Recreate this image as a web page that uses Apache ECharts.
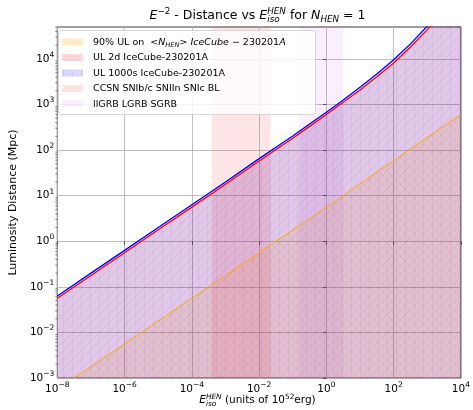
<!DOCTYPE html>
<html>
<head>
<meta charset="utf-8">
<script src="https://cdn.jsdelivr.net/npm/echarts@6/dist/echarts.min.js"></script>
<style>
  html, body { margin: 0; padding: 0; background: #fff; }
  #chart { width: 473px; height: 410px; }
</style>
</head>
<body>
<div id="chart"></div>
<script>
// Isotropic-equivalent energy (units of 1e52 erg)
const energy = [1e-8, 1e-7, 1e-6, 1e-5, 1e-4, 1e-3, 1e-2, 1e-1, 0.316, 1, 3.16, 10, 31.6, 100, 316, 1000, 3162, 10000];
// Luminosity distance (Mpc) reachable for each limit
const distBlue   = [0.063, 0.20, 0.63, 2.0, 6.3, 20, 65, 204, 372, 676, 1260, 2400, 4680, 9550, 21400, 52500, 138000, 390000];
const distRed    = [0.056, 0.178, 0.56, 1.78, 5.6, 17.8, 57.5, 182, 331, 603, 1120, 2090, 4070, 8130, 18200, 44000, 112000, 315000];
const distOrange = [5.6e-4, 1.78e-3, 5.6e-3, 0.0178, 0.056, 0.178, 0.56, 1.78, 3.16, 5.6, 10, 18.2, 33, 59, 105, 190, 339, 603];
// Energy ranges of source classes
const ccsnBand = [3.9e-4, 2.2e-2];
const grbBand = [0.155, 3.2];
// Axis ticks (exponents of ten)
const xTickExps = [-8, -6, -4, -2, 0, 2, 4];
const yTickExps = [-3, -2, -1, 0, 1, 2, 3, 4];
const xRange = [-8, 4];
const yRange = [-3, 4.7];

const FONT = 'DejaVu Sans';
const lg = v => Math.log10(v);
const pairs = (xs, ys) => xs.map((x, i) => [lg(x), lg(ys[i])]);

// Hatched fill tiles
function hatch(bg, ink, kind, s) {
  const c = document.createElement('canvas');
  c.width = s; c.height = s;
  const g = c.getContext('2d');
  if (bg) { g.fillStyle = bg; g.fillRect(0, 0, s, s); }
  g.strokeStyle = ink; g.lineWidth = 1;
  g.beginPath();
  if (kind === '/') {
    g.moveTo(-1, s + 1); g.lineTo(s + 1, -1);
    g.moveTo(-1, 1); g.lineTo(1, -1);
    g.moveTo(s - 1, s + 1); g.lineTo(s + 1, s - 1);
  } else if (kind === '\\') {
    g.moveTo(-1, -1); g.lineTo(s + 1, s + 1);
    g.moveTo(s - 1, -1); g.lineTo(s + 1, 1);
    g.moveTo(-1, s - 1); g.lineTo(1, s + 1);
  } else if (kind === '|') {
    g.moveTo(0.5, 0); g.lineTo(0.5, s);
  }
  g.stroke();
  return c;
}
const HS = 9;
const fillOrange = hatch('rgba(255,165,0,0.11)', 'rgba(255,150,0,0.13)', '\\', HS);
const fillRed    = hatch('rgba(255,0,0,0.10)', 'rgba(255,0,0,0.09)', '/', HS);
const fillBlue   = hatch('rgba(0,0,255,0.12)', 'rgba(40,0,220,0.06)', '|', HS);
const fillOrangeKey = hatch('rgba(255,165,0,0.2)', 'rgba(255,150,0,0.15)', '\\', HS);
const fillRedKey    = hatch('rgba(255,0,0,0.15)', 'rgba(255,0,0,0.1)', '/', HS);
const fillBlueKey   = hatch('rgba(0,0,255,0.15)', 'rgba(40,0,220,0.08)', '|', HS);
const ccsnColor = 'rgba(255,40,40,0.12)';
const grbColor  = 'rgba(200,90,235,0.09)';

// Text with super/subscripts laid out piece by piece
const mctx = document.createElement('canvas').getContext('2d');
const fontOf = p => (p.it ? 'italic ' : '') + p.size + 'px "' + FONT + '"';
function widthOf(p) { mctx.font = fontOf(p); return mctx.measureText(p.t).width; }
function mathLine(pieces, x0, baseline, align) {
  const items = [];
  let x = 0;
  pieces.forEach(p => {
    if (p.stack) {
      p.stack.forEach(q => items.push({ q, x }));
      x += Math.max(...p.stack.map(widthOf));
    } else {
      items.push({ q: p, x });
      x += widthOf(p);
    }
  });
  const start = align === 'center' ? x0 - x / 2 : x0;
  return items.map(({ q, x }) => ({
    type: 'text', silent: true, z: 100,
    x: start + x, y: baseline + (q.dy || 0) - 0.33 * q.size,
    style: { text: q.t, font: fontOf(q), fill: '#000', align: 'left', verticalAlign: 'middle' }
  }));
}

const T = 12.5, ts = T * 0.7;
const titleParts = [
  { t: 'E', it: 1, size: T }, { t: '\u22122', size: ts, dy: -T * 0.4 },
  { t: ' - Distance vs ', size: T },
  { t: 'E', it: 1, size: T },
  { stack: [{ t: 'HEN', it: 1, size: ts, dy: -T * 0.4 }, { t: 'iso', it: 1, size: ts, dy: T * 0.22 }] },
  { t: ' for ', size: T },
  { t: 'N', it: 1, size: T }, { t: 'HEN', it: 1, size: ts, dy: T * 0.22 },
  { t: ' = 1', size: T }
];
const A = 10.5, as = A * 0.7;
const xNameParts = [
  { t: 'E', it: 1, size: A },
  { stack: [{ t: 'HEN', it: 1, size: as, dy: -A * 0.4 }, { t: 'iso', it: 1, size: as, dy: A * 0.22 }] },
  { t: ' (units of 10', size: A }, { t: '52', size: as, dy: -A * 0.4 }, { t: 'erg)', size: A }
];

// Legend
const L = 9.5, ls = L * 0.7;
const legendRows = [
  { fill: fillOrangeKey, parts: [
    { t: '90% UL on  <', size: L }, { t: 'N', it: 1, size: L }, { t: 'HEN', it: 1, size: ls, dy: L * 0.22 },
    { t: '> ', size: L }, { t: 'IceCube', it: 1, size: L }, { t: ' \u2212 230201', size: L }, { t: 'A', it: 1, size: L }] },
  { fill: fillRedKey, parts: [{ t: 'UL 2d IceCube-230201A', size: L }] },
  { fill: fillBlueKey, parts: [{ t: 'UL 1000s IceCube-230201A', size: L }] },
  { fill: ccsnColor, parts: [{ t: 'CCSN SNIb/c SNIIn SNIc BL', size: L }] },
  { fill: grbColor, parts: [{ t: 'llGRB LGRB SGRB', size: L }] }
];
const legendBox = { x: 58, y: 30, w: 257, h: 84 };
const legendGraphics = [{
  type: 'rect', silent: true, z: 90,
  shape: { x: legendBox.x + 0.5, y: legendBox.y + 0.5, width: legendBox.w, height: legendBox.h, r: 2.5 },
  style: { fill: 'rgba(255,255,255,0.8)', stroke: '#d6d6d6', lineWidth: 1 }
}];
legendRows.forEach((row, i) => {
  const cy = legendBox.y + 12 + i * 15.5;
  legendGraphics.push({
    type: 'rect', silent: true, z: 95,
    shape: { x: 62, y: cy - 3.5, width: 21, height: 7 },
    style: { fill: typeof row.fill === 'string' ? row.fill : { image: row.fill, repeat: 'repeat' } }
  });
  legendGraphics.push(...mathLine(row.parts, 93, cy + 3.4, 'left'));
});

const richTick = {
  b: { fontFamily: FONT, fontSize: 10.5, color: '#000', lineHeight: 16 },
  s: { fontFamily: FONT, fontSize: 7.5, color: '#000', lineHeight: 9, verticalAlign: 'top' }
};
const powLabel = v => {
  const e = Math.round(v);
  if (Math.abs(v - e) > 1e-6) return '';
  return '{b|10}{s|' + String(e).replace('-', '\u2212') + '}';
};

const yMinor = [];
for (let e = yRange[0]; e < Math.ceil(yRange[1]); e++) {
  for (let k = 2; k <= 9; k++) { const v = e + lg(k); if (v < yRange[1]) yMinor.push(v); }
}

const chart = echarts.init(document.getElementById('chart'), null, { renderer: 'canvas' });
chart.setOption({
  animation: false,
  backgroundColor: '#fff',
  grid: { left: 53, right: 11, top: 27, bottom: 32, show: true, borderColor: '#3a3a3a', borderWidth: 1, backgroundColor: 'transparent' },
  xAxis: {
    type: 'value', min: xRange[0], max: xRange[1], interval: 2,
    axisLine: { show: false },
    axisTick: { show: true, inside: false, length: 3.5, lineStyle: { color: '#333', width: 0.8 }, customValues: xTickExps },
    axisLabel: { margin: 3, formatter: powLabel, rich: richTick, customValues: xTickExps },
    splitLine: { show: true, lineStyle: { color: '#b0b0b0', width: 0.8 } }
  },
  yAxis: {
    type: 'value', min: yRange[0], max: yRange[1], interval: 1,
    name: 'Luminosity Distance (Mpc)', nameLocation: 'middle', nameGap: 35, nameRotate: 90,
    nameTextStyle: { fontFamily: FONT, fontSize: 11, color: '#000' },
    axisLine: { show: false },
    axisTick: { show: true, inside: false, length: 3.5, lineStyle: { color: '#333', width: 0.8 }, customValues: yTickExps },
    axisLabel: { margin: 3, formatter: powLabel, rich: richTick, customValues: yTickExps },
    splitLine: { show: true, lineStyle: { color: '#b0b0b0', width: 0.8 } }
  },
  graphic: [
    ...mathLine(titleParts, 257.5, 20, 'center'),
    ...mathLine(xNameParts, 257.5, 404, 'center'),
    ...legendGraphics
  ],
  series: [
    { type: 'line', data: pairs(energy, distOrange), symbol: 'none', silent: true, z: 1,
      lineStyle: { opacity: 0 }, areaStyle: { origin: 'start', color: { image: fillOrange, repeat: 'repeat' }, opacity: 1 } },
    { type: 'line', data: pairs(energy, distRed), symbol: 'none', silent: true, z: 1,
      lineStyle: { opacity: 0 }, areaStyle: { origin: 'start', color: { image: fillRed, repeat: 'repeat' }, opacity: 1 } },
    { type: 'line', data: pairs(energy, distBlue), symbol: 'none', silent: true, z: 1,
      lineStyle: { opacity: 0 }, areaStyle: { origin: 'start', color: { image: fillBlue, repeat: 'repeat' }, opacity: 1 },
      markArea: { silent: true, data: [
        [{ xAxis: lg(ccsnBand[0]), itemStyle: { color: ccsnColor } }, { xAxis: lg(ccsnBand[1]) }],
        [{ xAxis: lg(grbBand[0]), itemStyle: { color: grbColor } }, { xAxis: lg(grbBand[1]) }]
      ] } },
    { type: 'line', data: pairs(energy, distOrange), symbol: 'none', silent: true, z: 3,
      lineStyle: { color: '#ffa500', width: 1 } },
    { type: 'line', data: pairs(energy, distRed), symbol: 'none', silent: true, z: 3,
      lineStyle: { color: '#ff0000', width: 1.3 } },
    { type: 'line', data: pairs(energy, distBlue), symbol: 'none', silent: true, z: 3,
      lineStyle: { color: '#0000ff', width: 1.3 } },
    { type: 'custom', coordinateSystem: 'cartesian2d', silent: true, clip: false, z: 5,
      data: yMinor.map(v => [xRange[0], v]),
      renderItem: (params, api) => {
        const p = api.coord([api.value(0), api.value(1)]);
        return { type: 'line', shape: { x1: p[0] - 2, y1: p[1], x2: p[0], y2: p[1] }, style: { stroke: '#333', lineWidth: 0.6 } };
      } }
  ]
});
</script>
</body>
</html>
